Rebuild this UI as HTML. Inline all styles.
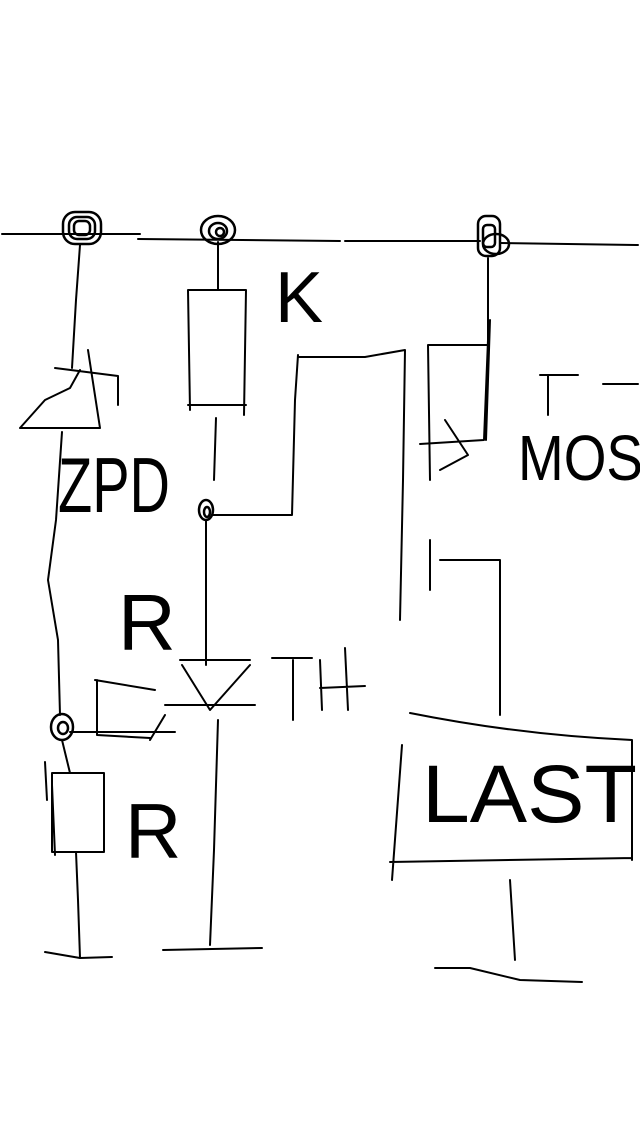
<!DOCTYPE html>
<html><head><meta charset="utf-8"><style>
html,body{margin:0;padding:0;background:#fff;width:640px;height:1136px;overflow:hidden}
svg{display:block}
text{font-family:"Liberation Sans",sans-serif;fill:#000}
</style></head><body>
<svg width="640" height="1136" viewBox="0 0 640 1136" fill="none" stroke="#000" stroke-width="2" stroke-linecap="round" stroke-linejoin="round">
<!-- top bus -->
<path d="M2 234 L140 234 M138 239 L340 241 M345 241 L480 241 M500 243 L638 245"/>
<!-- nodes -->
<g stroke-width="2.5">
<rect x="63" y="212" width="38" height="32" rx="12"/><rect x="69" y="217" width="26" height="22" rx="8"/><rect x="74" y="221" width="16" height="14" rx="5"/>
<ellipse cx="218" cy="230" rx="17" ry="14"/><ellipse cx="218" cy="231" rx="9" ry="8"/><ellipse cx="220" cy="232" rx="4" ry="4"/>
<rect x="478" y="216" width="22" height="40" rx="8"/><ellipse cx="496" cy="244" rx="13" ry="10"/><rect x="483" y="225" width="12" height="22" rx="4"/>
<ellipse cx="206" cy="510" rx="7" ry="10"/><ellipse cx="207" cy="512" rx="3" ry="5"/>
<ellipse cx="62" cy="727" rx="11" ry="13"/><ellipse cx="63" cy="728" rx="5" ry="6"/>
</g>
<!-- left branch -->
<path d="M80 245 L76 300 L72 368"/>
<path d="M55 368 L118 376 L118 405 M20 428 L100 428 M20 428 L45 400 L70 388 L80 370 M88 350 L100 428"/>
<text x="58" y="512" font-size="78" stroke="none" textLength="112" lengthAdjust="spacingAndGlyphs">ZPD</text>
<path d="M62 432 L56 520 L48 580 L58 640 L60 715"/>
<text x="118" y="650" font-size="80" stroke="none">R</text>
<path d="M95 680 L155 690 M97 680 L97 735 L150 738 M70 732 L175 732 M165 715 L150 740"/>
<path d="M62 740 L70 773"/>
<rect x="52" y="773" width="52" height="79"/>
<path d="M45 762 L47 800 M52 785 L55 855"/>
<text x="125" y="858" font-size="78" stroke="none">R</text>
<path d="M76 852 L78 900 L80 958 M45 952 L80 958 L112 957"/>
<!-- resistor column -->
<path d="M218 242 L218 290"/>
<path d="M188 290 L246 290 M188 290 L190 410 M246 290 L244 415 M188 405 L246 405"/>
<text x="275" y="322" font-size="72" stroke="none">K</text>
<path d="M216 418 L214 480"/>
<path d="M212 515 L292 515 L295 400 L298 355 M298 357 L365 357 L405 350 L403 480 L400 620"/>
<path d="M206 520 L206 665"/>
<path d="M180 660 L250 660 M182 665 L210 710 L250 665 M165 705 L255 705"/>
<path d="M218 720 L214 850 L210 945 M163 950 L262 948"/>
<path d="M272 658 L312 658 M293 660 L293 720 M320 660 L322 710 M345 648 L348 710 M320 688 L365 686"/>
<!-- P-MOS -->
<path d="M488 258 L488 340 L484 440 L420 444 M490 320 L486 440"/>
<path d="M428 345 L488 345 M428 345 L430 480 M445 420 L468 455 L440 470"/>
<path d="M540 375 L578 375 M548 375 L548 415 M603 384 L638 384"/>
<text x="518" y="480" font-size="64" stroke="none" textLength="125" lengthAdjust="spacingAndGlyphs">MOS</text>
<path d="M430 540 L430 590 M440 560 L500 560 L500 715"/>
<!-- LAST -->
<path d="M410 713 Q520 735 632 740 M632 740 L632 860 M390 862 L632 858 M402 745 L392 880"/>
<text x="422" y="822" font-size="82" stroke="none" textLength="215" lengthAdjust="spacingAndGlyphs">LAST</text>
<path d="M510 880 L515 960 M435 968 L470 968 L520 980 L582 982"/>
</svg>
</body></html>
